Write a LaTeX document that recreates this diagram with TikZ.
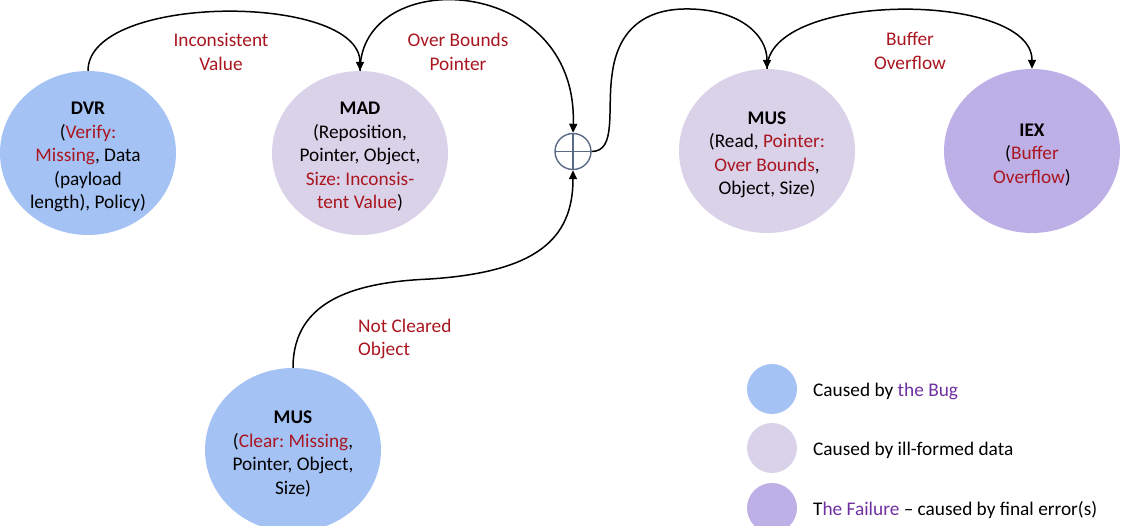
\documentclass[tikz,border=0pt]{standalone}
\usepackage{fontspec}
\setmainfont{Carlito}
\usetikzlibrary{shapes.geometric,arrows.meta}
\frenchspacing

\definecolor{bugblue}{RGB}{164,194,244}
\definecolor{dataliac}{RGB}{217,210,233}
\definecolor{failpurple}{RGB}{189,176,230}
\definecolor{errred}{RGB}{170,22,32}
\definecolor{notepurple}{RGB}{112,48,160}
\definecolor{plusgray}{RGB}{90,106,134}

\newcommand{\rd}[1]{\textcolor{errred}{#1}}
\newcommand{\pu}[1]{\textcolor{notepurple}{#1}}

\tikzset{
  state/.style={ellipse, minimum width=176pt, minimum height=164pt, inner sep=0pt},
  bugstate/.style={state, fill=bugblue},
  datastate/.style={state, fill=dataliac},
  failstate/.style={state, fill=failpurple},
  stext/.style={align=center, inner sep=0pt, yshift=-4pt},
  conn/.style={line width=1.5pt, -{Triangle[length=9pt,width=8pt]}},
  elabel/.style={align=center, text=errred, inner sep=0pt},
  keydot/.style={circle, minimum size=50pt, inner sep=0pt},
  keytext/.style={anchor=west, inner sep=0pt, yshift=-2pt},
}

\begin{document}
\begin{tikzpicture}[x=1pt, y=-1pt, font=\fontsize{19.3}{23.5}\selectfont]
\useasboundingbox (0,0) rectangle (1127,526);

% states
\node[bugstate]  (dvr)  at (88,153)   {};
\node[datastate] (mad)  at (360,153)  {};
\node[datastate] (mus2) at (767,151)  {};
\node[failstate] (iex)  at (1032,151) {};
\node[bugstate]  (mus1) at (293,450)  {};

\node[stext] (dvr-t) at (dvr) {\textbf{DVR}\\(\rd{Verify:}\\\rd{Missing}, Data\\(payload\\length), Policy)};
\node[stext] (mad-t) at (mad) {\textbf{MAD}\\(Reposition,\\Pointer, Object,\\\rd{Size: Inconsis-}\\\rd{tent Value})};
\node[stext] (mus2-t) at (mus2) {\textbf{MUS}\\(Read, \rd{Pointer:}\\\rd{Over Bounds},\\Object, Size)};
\node[stext] (iex-t) at (iex) {\textbf{IEX}\\(\rd{Buffer}\\\rd{Overflow})};
\node[stext] (mus1-t) at (mus1) {\textbf{MUS}\\(\rd{Clear: Missing},\\Pointer, Object,\\Size)};

% junction
\node[circle, draw=plusgray, line width=1.4pt, minimum size=36pt, inner sep=0pt,
  path picture={\draw[plusgray, line width=1.4pt]
    (path picture bounding box.north) -- (path picture bounding box.south)
    (path picture bounding box.west) -- (path picture bounding box.east);}]
  (plus) at (573,151.5) {};

% connectors
\draw[conn] (dvr.north) .. controls +(0,-78) and +(0,-78) .. (mad.north);
\draw[conn] (mad.north) .. controls +(0,-106) and +(5,-160) .. (plus.north);
\draw[conn] (plus.east) .. controls +(25,0) and (607,110) .. (612,75)
  .. controls (618,25) and (650,8) .. (690,9)
  .. controls (740,10) and (767,35) .. (mus2.north);
\draw[conn] (mus2.north) .. controls +(0,-78) and +(0,-78) .. (iex.north);
\draw[conn] (mus1.north) .. controls +(0,-70) and (360,282) .. (430,279)
  .. controls (535,272) and +(0,70) .. (plus.south);

% connector labels
\node[elabel] (l-iv) at (221,52) {Inconsistent\\Value};
\node[elabel] (l-ob) at (458,52) {Over Bounds\\Pointer};
\node[elabel] (l-bo) at (910,51) {Buffer\\Overflow};
\node[elabel, align=left, anchor=west] (l-nc) at (358,339) {Not Cleared\\Object};

% key
\node[keydot, fill=bugblue]    (k1) at (772,389) {};
\node[keydot, fill=dataliac]   (k2) at (772,448) {};
\node[keydot, fill=failpurple] (k3) at (772,508) {};
\node[keytext] (k1-t) at (813,389) {Caused by \pu{the Bug}};
\node[keytext] (k2-t) at (813,448) {Caused by ill-formed data};
\node[keytext] (k3-t) at (813,508) {T\pu{he Failure} -- caused by final error(s)};
\end{tikzpicture}
\end{document}
